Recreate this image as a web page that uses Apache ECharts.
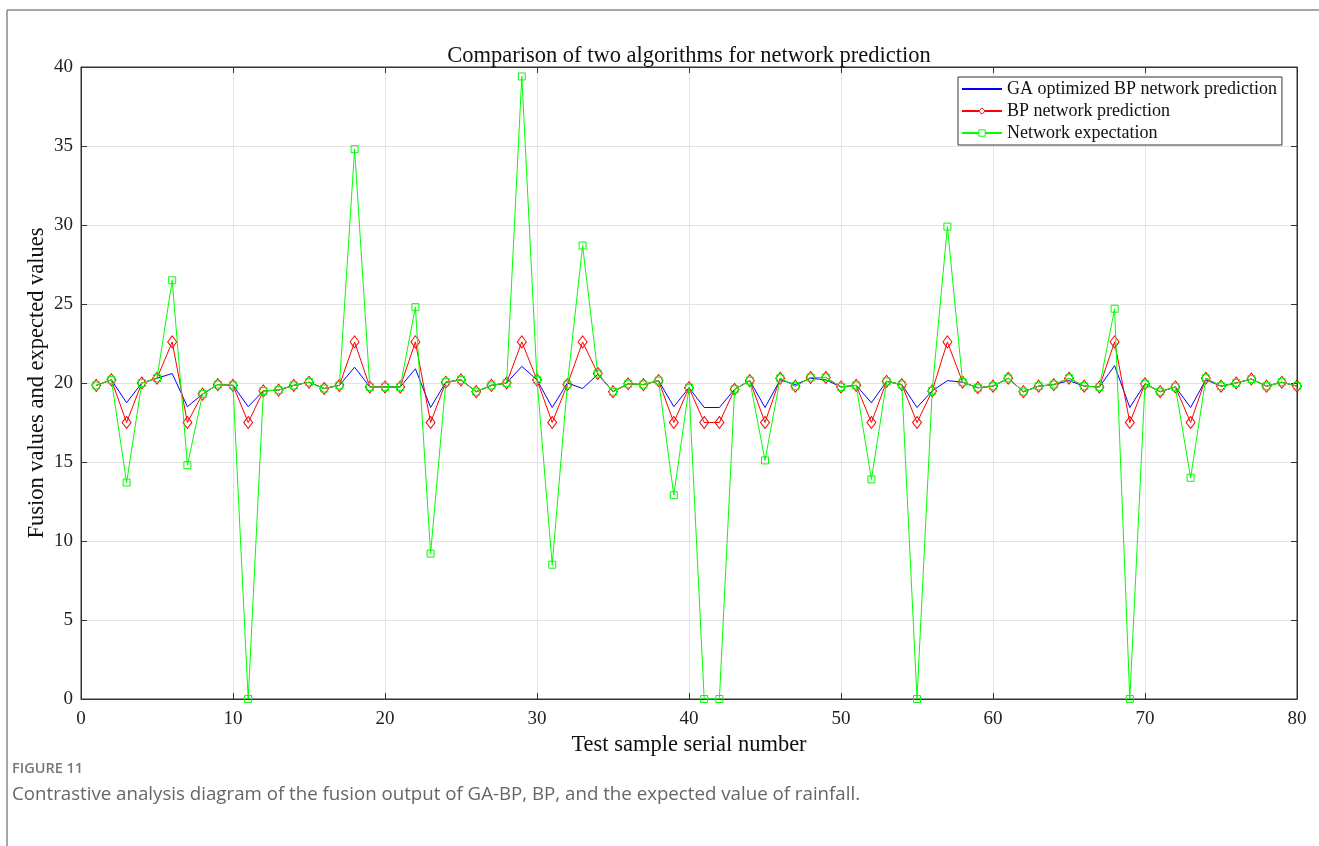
<!DOCTYPE html>
<html>
<head>
<meta charset="utf-8">
<title>Comparison of two algorithms for network prediction</title>
<script src="https://cdn.jsdelivr.net/npm/echarts@6/dist/echarts.min.js"></script>
<style>
	html, body { margin: 0; padding: 0; background: #fff; }
	#chart { width: 1319px; height: 846px; }
</style>
</head>
<body>
<div id="chart"></div>
<script>
// test sample serial numbers
var samples = [
	1, 2, 3, 4, 5, 6, 7, 8, 9, 10, 11, 12, 13, 14, 15, 16, 17, 18, 19, 20,
	21, 22, 23, 24, 25, 26, 27, 28, 29, 30, 31, 32, 33, 34, 35, 36, 37, 38, 39, 40,
	41, 42, 43, 44, 45, 46, 47, 48, 49, 50, 51, 52, 53, 54, 55, 56, 57, 58, 59, 60,
	61, 62, 63, 64, 65, 66, 67, 68, 69, 70, 71, 72, 73, 74, 75, 76, 77, 78, 79, 80
];

var gaBp = [
	19.85, 20.2, 18.75, 20.0, 20.3, 20.6, 18.5, 19.3, 19.9, 19.85,
	18.5, 19.5, 19.55, 19.85, 20.05, 19.65, 19.85, 21.0, 19.75, 19.75,
	19.75, 20.9, 18.45, 20.05, 20.2, 19.45, 19.85, 20.0, 21.05, 20.2,
	18.45, 20.0, 19.65, 20.55, 19.45, 19.95, 19.9, 20.15, 18.5, 19.7,
	18.45, 18.45, 19.6, 20.15, 18.45, 20.2, 19.9, 20.3, 20.2, 19.75,
	19.85, 18.75, 20.1, 19.9, 18.45, 19.5, 20.15, 20.05, 19.7, 19.8,
	20.3, 19.45, 19.8, 19.9, 20.15, 19.8, 19.75, 21.1, 18.45, 19.95,
	19.45, 19.75, 18.45, 20.2, 19.8, 20.0, 20.25, 19.8, 20.05, 19.8
];

var bp = [
	19.85, 20.2, 17.5, 20.0, 20.3, 22.6, 17.5, 19.3, 19.9, 19.85,
	17.5, 19.5, 19.55, 19.85, 20.05, 19.65, 19.85, 22.6, 19.75, 19.75,
	19.75, 22.6, 17.5, 20.05, 20.2, 19.45, 19.85, 20.0, 22.6, 20.2,
	17.5, 19.9, 22.6, 20.6, 19.45, 19.95, 19.9, 20.15, 17.5, 19.7,
	17.5, 17.5, 19.6, 20.15, 17.5, 20.3, 19.8, 20.35, 20.35, 19.75,
	19.85, 17.5, 20.1, 19.9, 17.5, 19.5, 22.6, 20.05, 19.7, 19.8,
	20.3, 19.45, 19.8, 19.9, 20.3, 19.8, 19.75, 22.6, 17.5, 19.95,
	19.45, 19.75, 17.5, 20.3, 19.8, 20.0, 20.25, 19.8, 20.05, 19.8
];

var expected = [
	19.85, 20.2, 13.7, 20.0, 20.3, 26.5, 14.8, 19.3, 19.9, 19.85,
	0, 19.5, 19.55, 19.85, 20.05, 19.65, 19.85, 34.8, 19.75, 19.75,
	19.75, 24.8, 9.2, 20.05, 20.2, 19.45, 19.85, 20.0, 39.4, 20.2,
	8.5, 19.9, 28.7, 20.6, 19.45, 19.95, 19.9, 20.15, 12.9, 19.7,
	0, 0, 19.6, 20.15, 15.1, 20.3, 19.8, 20.35, 20.35, 19.75,
	19.85, 13.9, 20.1, 19.9, 0, 19.5, 29.9, 20.05, 19.7, 19.8,
	20.3, 19.45, 19.8, 19.9, 20.3, 19.8, 19.75, 24.7, 0, 19.95,
	19.45, 19.75, 14.0, 20.3, 19.8, 20.0, 20.25, 19.8, 20.05, 19.8
];

var seriesNames = ['GA optimized BP network prediction', 'BP network prediction', 'Network expectation'];

function pairs(values) {
	return samples.map(function(s, i) { return [s, values[i]]; });
}

var serif = '"Liberation Serif", "Times New Roman", serif';
var sans = '"Open Sans", Lato, sans-serif';
var axisColor = '#333';

var myChart = echarts.init(document.getElementById('chart'));

// top / right axes only carry the box ticks, like a matlab "box on"
var mirrorAxis = {
	type: 'value',
	axisLine: { show: true, onZero: false, lineStyle: { color: axisColor, width: 1 } },
	axisTick: { show: true, inside: true, length: 6, lineStyle: { color: axisColor } },
	axisLabel: { show: false },
	splitLine: { show: false }
};

var option = {
	backgroundColor: '#fff',
	animation: false,
	grid: {
		left: 81, right: 22, top: 67, bottom: 147,
		show: true,
		borderColor: axisColor,
		borderWidth: 1,
		containLabel: false,
		outerBoundsMode: 'none'
	},
	legend: {
		left: 958,
		top: 77,
		orient: 'vertical',
		backgroundColor: '#fff',
		borderColor: '#333',
		borderWidth: 1,
		borderRadius: 0,
		padding: [3, 5, 3, 3],
		itemWidth: 40,
		itemHeight: 8,
		itemGap: 4,
		textStyle: { fontFamily: serif, fontSize: 18, color: '#111', lineHeight: 18 },
		data: [
			{ name: seriesNames[0], itemStyle: { color: 'rgba(0,0,0,0)', borderColor: 'rgba(0,0,0,0)' } },
			{ name: seriesNames[1], itemStyle: { color: '#fff', borderColor: '#ff0000', borderWidth: 1 } },
			{ name: seriesNames[2], itemStyle: { color: '#fff', borderColor: '#00ff00', borderWidth: 1 } }
		]
	},
	xAxis: [{
		type: 'value',
		min: 0, max: 80, interval: 10,
		name: 'Test sample serial number',
		nameLocation: 'middle',
		nameGap: 34,
		nameTextStyle: { fontFamily: serif, fontSize: 22.5, color: '#111' },
		axisLine: { show: true, onZero: false, lineStyle: { color: axisColor } },
		axisTick: { show: true, inside: true, length: 6, lineStyle: { color: axisColor } },
		axisLabel: { fontFamily: serif, fontSize: 19, color: '#222', margin: 11 },
		splitLine: { show: true, lineStyle: { color: '#e3e3e3' } }
	}, Object.assign({ position: 'top', min: 0, max: 80, interval: 10 }, mirrorAxis)],
	yAxis: [{
		type: 'value',
		min: 0, max: 40, interval: 5,
		name: 'Fusion values and expected values',
		nameLocation: 'middle',
		nameGap: 32,
		nameMoveOverlap: false,
		nameTextStyle: { fontFamily: serif, fontSize: 22.5, color: '#111' },
		axisLine: { show: true, onZero: false, lineStyle: { color: axisColor } },
		axisTick: { show: true, inside: true, length: 6, lineStyle: { color: axisColor } },
		axisLabel: { fontFamily: serif, fontSize: 19, color: '#222', margin: 8 },
		splitLine: { show: true, lineStyle: { color: '#e3e3e3' } }
	}, Object.assign({ position: 'right', min: 0, max: 40, interval: 5 }, mirrorAxis)],
	graphic: [
		{ type: 'line', shape: { x1: 7, y1: 10, x2: 1319, y2: 10 }, style: { stroke: '#8a8a8a', lineWidth: 1.5 } },
		{ type: 'line', shape: { x1: 7, y1: 10, x2: 7, y2: 846 }, style: { stroke: '#8a8a8a', lineWidth: 1.5 } },
		{
			type: 'text', x: 689, y: 56,
			style: {
				text: 'Comparison of two algorithms for network prediction',
				font: '22.5px ' + serif, fill: '#111',
				align: 'center', verticalAlign: 'middle'
			}
		},
		{
			type: 'text', x: 12, y: 769,
			style: {
				text: 'FIGURE 11',
				font: '600 14.5px ' + sans, fill: '#777',
				align: 'left', verticalAlign: 'middle'
			}
		},
		{
			type: 'text', x: 12, y: 795,
			style: {
				text: 'Contrastive analysis diagram of the fusion output of GA-BP, BP, and the expected value of rainfall.',
				font: '18.7px ' + sans, fill: '#666',
				align: 'left', verticalAlign: 'middle'
			}
		}
	],
	series: [{
		name: seriesNames[0],
		type: 'line',
		data: pairs(gaBp),
		symbol: 'none',
		lineStyle: { color: '#0000ff', width: 1 },
		itemStyle: { color: '#0000ff' },
		z: 2
	}, {
		name: seriesNames[1],
		type: 'line',
		data: pairs(bp),
		symbol: 'diamond',
		symbolSize: [9, 12],
		lineStyle: { color: '#ff0000', width: 1 },
		itemStyle: { color: 'rgba(255,255,255,0)', borderColor: '#ff0000', borderWidth: 1 },
		z: 3
	}, {
		name: seriesNames[2],
		type: 'line',
		data: pairs(expected),
		symbol: 'rect',
		symbolSize: 7,
		lineStyle: { color: '#00ff00', width: 1 },
		itemStyle: { color: 'rgba(255,255,255,0)', borderColor: '#00ff00', borderWidth: 1 },
		z: 4
	}, {
		// empty series so the mirror axes get drawn
		type: 'line',
		xAxisIndex: 1,
		yAxisIndex: 1,
		data: [],
		silent: true
	}]
};

myChart.setOption(option);
</script>
</body>
</html>
